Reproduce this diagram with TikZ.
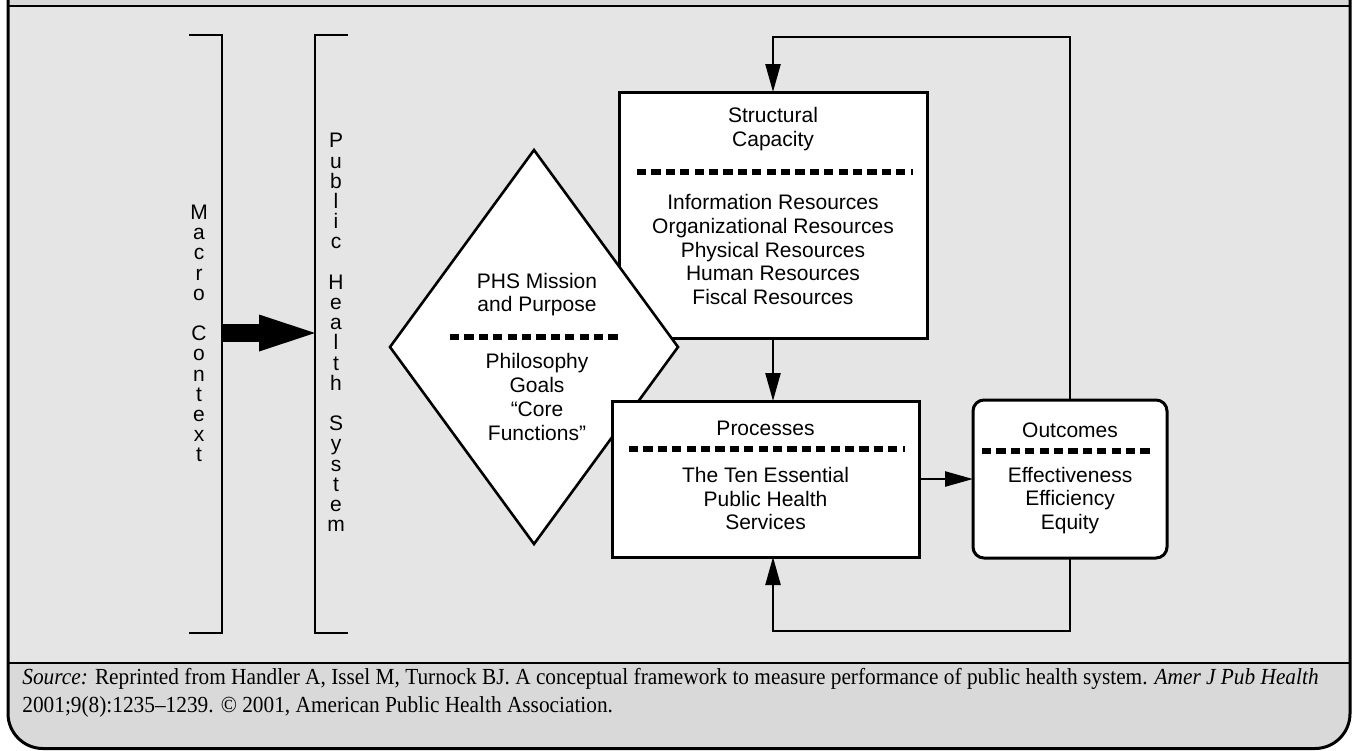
\documentclass[tikz,border=0pt]{standalone}
\usepackage{fontspec}
\setmainfont{Liberation Serif}
\newfontfamily\diagfont{Liberation Sans}
\newfontfamily\notefont[FakeStretch=0.927]{Liberation Serif}
\usetikzlibrary{arrows.meta, positioning, shapes.geometric, calc}
\definecolor{panelgray}{HTML}{E5E5E5}
\definecolor{notegray}{HTML}{D9D9D9}

\begin{document}
\begin{tikzpicture}[x=0.5pt, y=-0.5pt, font=\diagfont\fontsize{10.5}{11.9}\selectfont]
		% styles
		\tikzstyle{box} = [rectangle, draw, line width=1.5pt, fill=white, inner sep=0pt, outer sep=0pt]
		\tikzstyle{roundbox} = [box, rounded corners=5.5pt]
		\tikzstyle{rhomb} = [diamond, draw, line width=1.3pt, fill=white, inner sep=0pt, outer sep=0pt, minimum width=144pt, minimum height=197pt]
		\tikzstyle{txt} = [align=center, inner sep=0pt]
		\tikzstyle{vtext} = [align=center, inner sep=0pt, font=\diagfont\fontsize{10.5}{10.1}\selectfont]
		\tikzstyle{sep} = [line width=2.6pt, dash pattern=on 4.6pt off 2.6pt]
		\tikzstyle{arrow} = [line width=1.2pt, -{Triangle[length=14pt,width=7.5pt]}]
		\tikzstyle{bracket} = [line width=1.2pt]
		
		% frame
		\useasboundingbox (0,0) rectangle (1352,750);
		\clip (0,0) rectangle (1352,750);
		\fill[notegray, rounded corners=17.5pt] (8,-60) -- (8,748.5) -- (1350,748.5) -- (1350,-60) -- cycle;
		\fill[panelgray] (8,6) rectangle (1350,663);
		\draw[line width=1.3pt] (8,6) -- (1350,6);
		\draw[line width=1.3pt] (8,663) -- (1350,663);
		\draw[line width=1.5pt, rounded corners=17.5pt] (8,-60) -- (8,748.5) -- (1350,748.5) -- (1350,-60);
		
		% boxes
		\node[box, minimum width=154pt, minimum height=123pt] (strucap) at (773,215) {};
		\node[rhomb] (mission) at (534,347) {};
		\node[box, minimum width=153.5pt, minimum height=78pt, below=31.5pt of strucap, xshift=-3.75pt] (process) {};
		\node[roundbox, minimum width=97pt, minimum height=79pt, right=27pt of process] (outcome) {};
		
		% box texts
		\node[txt] (sctitle) at ($(strucap.north)+(0,37)$) {Structural\\Capacity};
		\draw[sep] ($(strucap.north west)+(18,80)$) -- ($(strucap.north east)+(-14,80)$);
		\node[txt] (scbody) at ($(strucap.north)+(0,157.5)$) {Information Resources\\Organizational Resources\\Physical Resources\\Human Resources\\Fiscal Resources};
		
		\node[txt] (mstitle) at ($(mission.center)+(3,-52.5)$) {PHS Mission\\and Purpose};
		\draw[sep] ($(mission.center)+(-84,-10)$) -- ($(mission.center)+(87,-10)$);
		\node[txt] (msbody) at ($(mission.center)+(3,50)$) {Philosophy\\Goals\\“Core\\Functions”};
		
		\node[txt] (prtitle) at ($(process.north)+(0,27)$) {Processes};
		\draw[sep] ($(process.north west)+(17,48)$) -- ($(process.north east)+(-14,48)$);
		\node[txt] (prbody) at ($(process.north)+(0,97.5)$) {The Ten Essential\\Public Health\\Services};
		
		\node[txt] (octitle) at ($(outcome.north)+(0,30)$) {Outcomes};
		\draw[sep] ($(outcome.north west)+(9,51)$) -- ($(outcome.north east)+(-13,51)$);
		\node[txt] (ocbody) at ($(outcome.north)+(0,100.5)$) {Effectiveness\\Efficiency\\Equity};
		
		% brackets
		\coordinate (mcR) at (222,333);
		\coordinate (phL) at (315,333);
		\draw[bracket] (189,35) -| (mcR) |- (189,633);
		\draw[bracket] (348,35) -| (phL) |- (348,633);
		\node[vtext] (macro) at (199,333.5) {M\\a\\c\\r\\o\\[10.1pt]C\\o\\n\\t\\e\\x\\t};
		\node[vtext] (phs) at (336,332.5) {P\\u\\b\\l\\i\\c\\[10.1pt]H\\e\\a\\l\\t\\h\\[10.1pt]S\\y\\s\\t\\e\\m};
		
		% arrows
		\draw[line width=9pt, -{Triangle[length=28pt,width=18.5pt,line width=0pt]}] (mcR) -- (phL);
		\draw[arrow] (strucap.south) -- (strucap.south |- process.north);
		\draw[arrow] (process.east) -- (outcome.west);
		\coordinate (fbtop) at (773,37);
		\coordinate (fbbot) at (773,631);
		\draw[arrow] (outcome.north) |- (fbtop) -- (strucap.north);
		\draw[arrow] (outcome.south) |- (fbbot) -- (fbbot |- process.south);
		
		% source note
		\node[anchor=west, inner sep=0pt, align=left, font=\notefont\fontsize{11.5}{14}\selectfont] (source) at (22,693) {\textit{Source:} Reprinted from Handler A, Issel M, Turnock BJ. A conceptual framework to measure performance of public health system. \textit{Amer J Pub Health}\\2001;9(8):1235–1239. © 2001, American Public Health Association.};
\end{tikzpicture}
\end{document}
